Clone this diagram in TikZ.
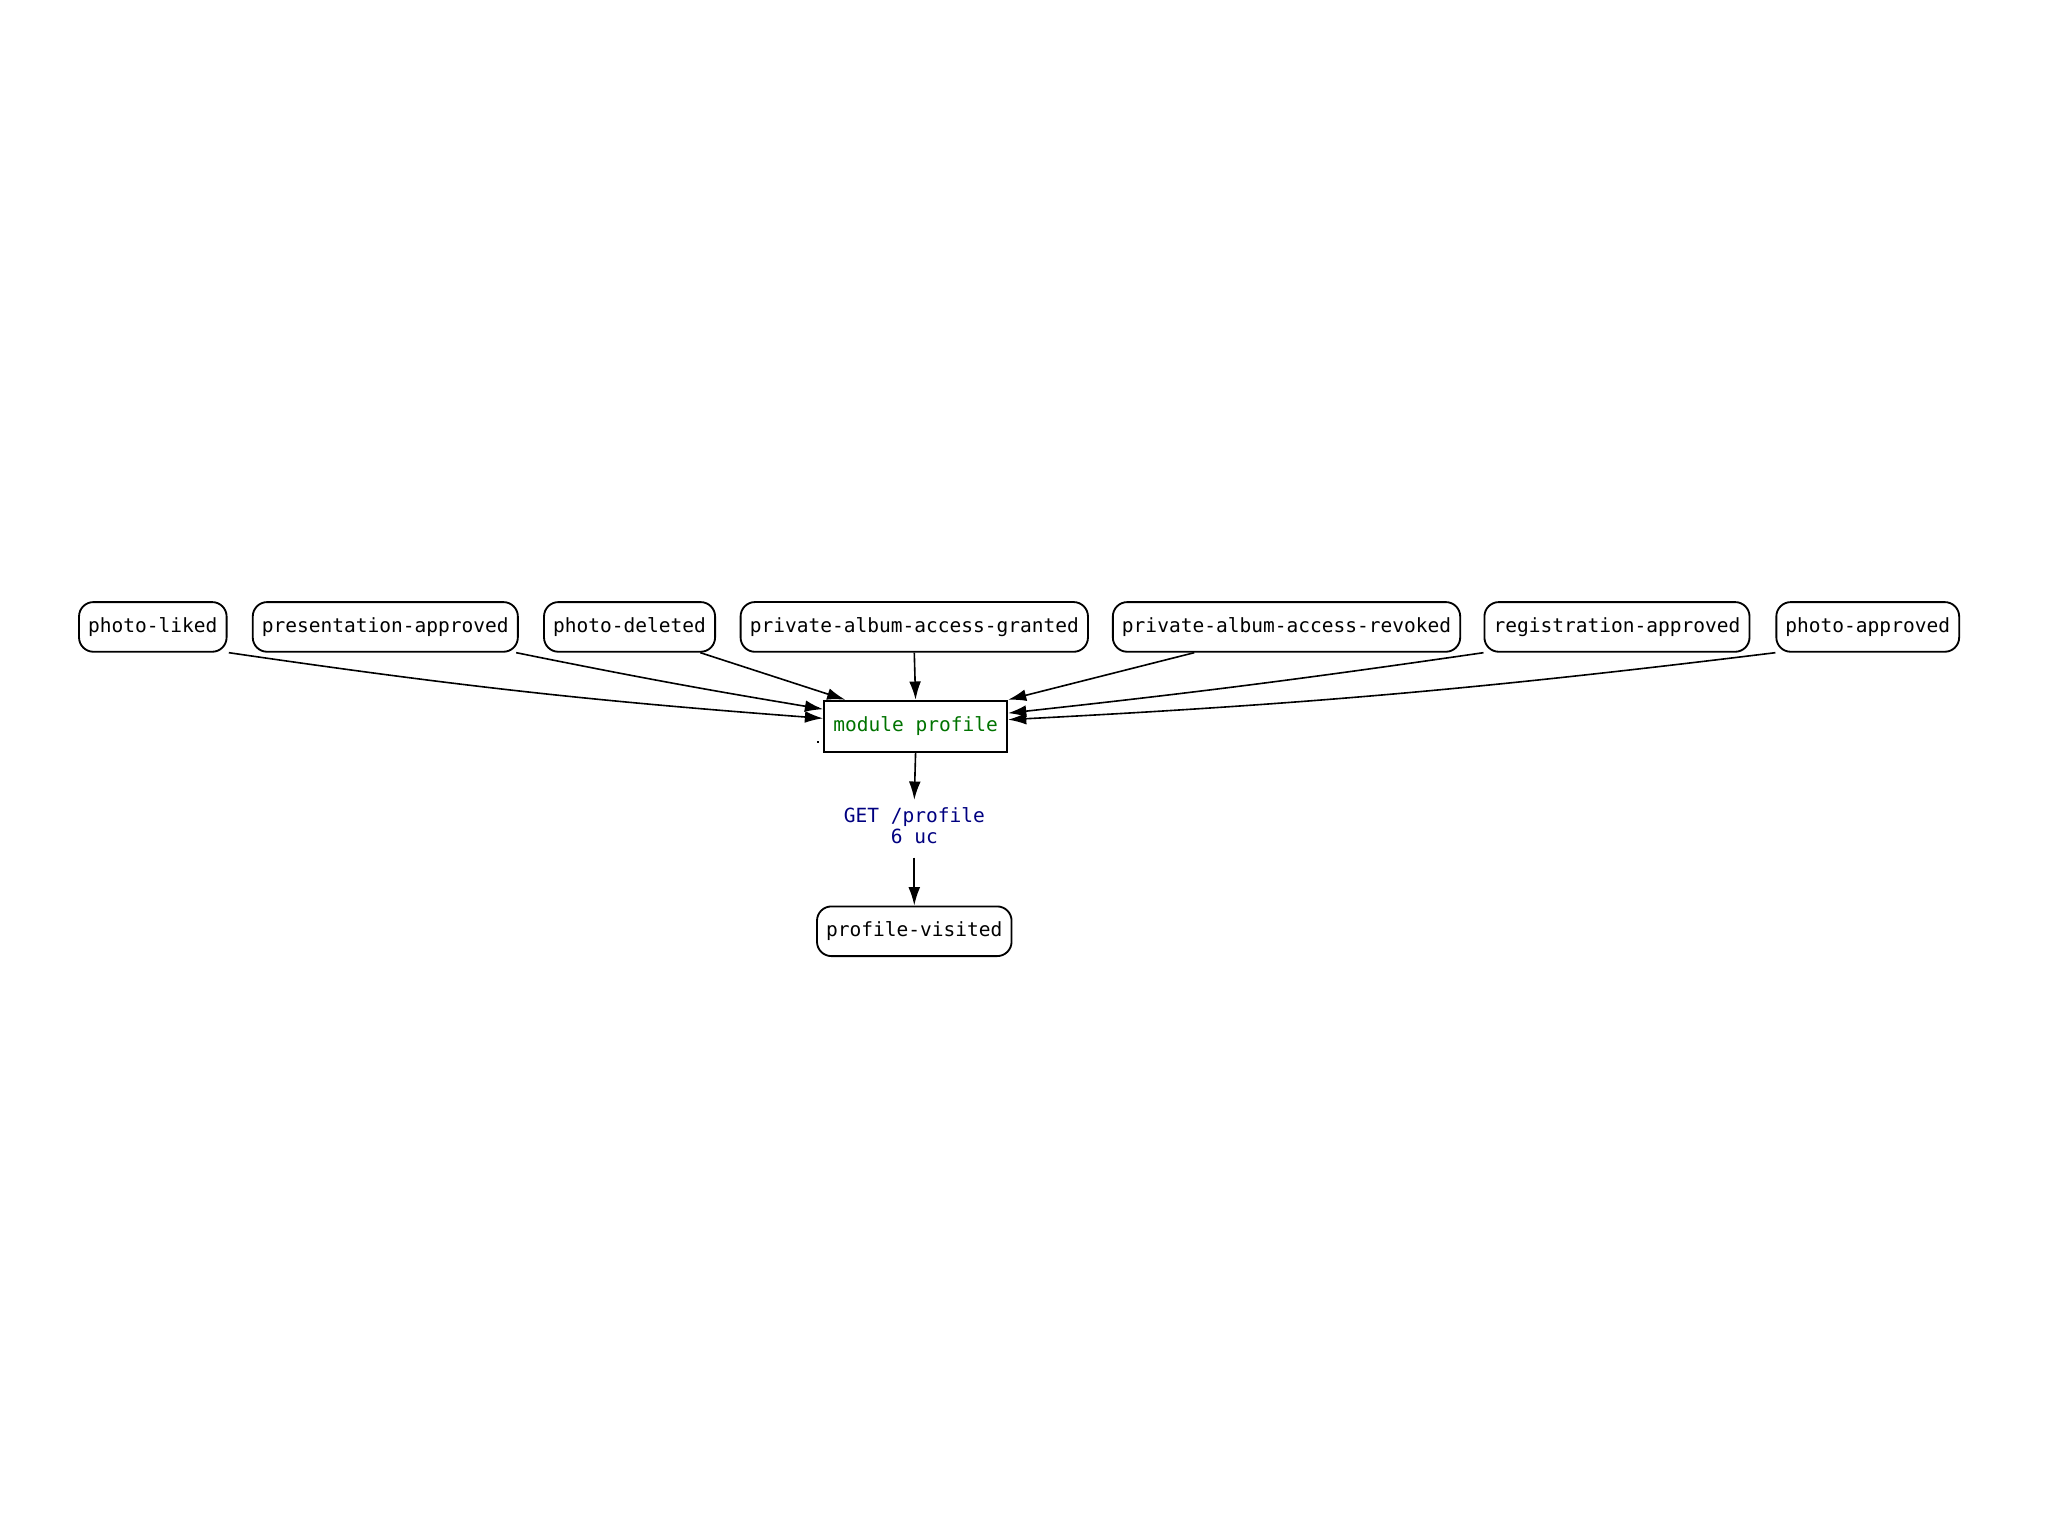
\documentclass[tikz,border=0pt]{standalone}
\usepackage{fontspec}
\setmonofont{DejaVu Sans Mono}
\usetikzlibrary{arrows.meta}
\begin{document}
\begin{tikzpicture}[x=0.01cm,y=-0.01cm,
  ev/.style={draw,rounded corners=0.11cm,minimum height=0.38cm,inner xsep=0.07cm,font=\ttfamily\fontsize{4.25pt}{5pt}\selectfont,line width=0.4pt},
  arr/.style={-{Latex[length=0.14cm,width=0.09cm]},line width=0.35pt}]
\useasboundingbox (0,0) rectangle (1568,1176);
\node[ev] (pl) at (117,480) {photo-liked};
\node[ev] (pa) at (295,480) {presentation-approved};
\node[ev] (pd) at (482,480) {photo-deleted};
\node[ev] (ag) at (700,480) {private-album-access-granted};
\node[ev] (ar) at (985,480) {private-album-access-revoked};
\node[ev] (ra) at (1238,480) {registration-approved};
\node[ev] (pp) at (1430,480) {photo-approved};
\node[draw,minimum width=1.4cm,inner xsep=0.02cm,minimum height=0.39cm,font=\ttfamily\fontsize{4.25pt}{5pt}\selectfont,text=green!45!black] (mp) at (701,556) {module profile};
\draw[fill=white,line width=0.3pt] ([xshift=-0.04cm,yshift=0.14cm]mp.west) rectangle ++(0.08,0.04);
\draw[fill=white,line width=0.3pt] ([xshift=-0.04cm,yshift=-0.12cm]mp.west) rectangle ++(0.08,-0.04);
\node[align=center,font=\ttfamily\fontsize{4.25pt}{4.6pt}\selectfont,text=blue!50!black,inner sep=0pt] (get) at (700,632) {GET /profile\\6 uc};
\node[ev] (pv) at (700,713) {profile-visited};
\draw[arr] ([xshift=0.01cm]pl.south east) to[bend right=2] ([yshift=0.06cm]mp.west);
\draw[arr] ([xshift=-0.02cm]pa.south east) to[bend right=1] ([yshift=0.13cm]mp.west);
\draw[arr] ([xshift=-0.12cm]pd.south east) -- ([xshift=0.17cm]mp.north west);
\draw[arr] (ag.south) -- (mp.north);
\draw[arr] ([xshift=0.63cm]ar.south west) -- (mp.north east);
\draw[arr] (ra.south west) to[bend left=1] ([yshift=0.1cm]mp.east);
\draw[arr] (pp.south west) to[bend left=2] ([yshift=0.05cm]mp.east);
\draw[arr] (mp.south) -- ([yshift=0.05cm]get.north);
\draw[arr] ([yshift=-0.1cm]get.south) -- (pv.north);
\end{tikzpicture}
\end{document}
